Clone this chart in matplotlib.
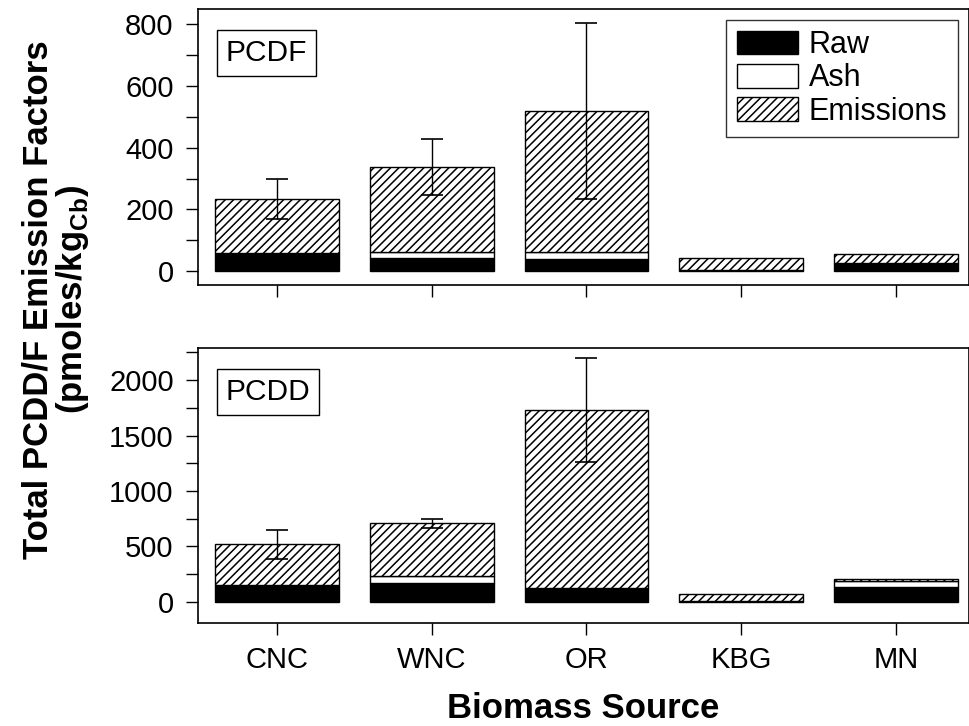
import numpy as np
import matplotlib
matplotlib.use("Agg")
import matplotlib.pyplot as plt
from matplotlib.patches import Patch
from matplotlib.ticker import MultipleLocator

plt.rcParams['font.family'] = ['Liberation Sans', 'DejaVu Sans']
plt.rcParams['mathtext.fontset'] = 'custom'
plt.rcParams['mathtext.bf'] = 'Liberation Sans:bold'
plt.rcParams['mathtext.rm'] = 'Liberation Sans'
plt.rcParams['hatch.linewidth'] = 1.1

categories = ['CNC', 'WNC', 'OR', 'KBG', 'MN']

# PCDF (top panel)
pcdf_raw = [60, 44, 39, 3, 23]
pcdf_ash = [0, 18, 23, 1, 5]
pcdf_emis = [173, 276, 457, 40, 27]
pcdf_err = [65, 91, 284, 0, 0]

# PCDD (bottom panel)
pcdd_raw = [151, 166, 121, 5, 135]
pcdd_ash = [0, 68, 0, 2, 48]
pcdd_emis = [367, 473, 1609, 60, 22]
pcdd_err = [128, 37, 466, 0, 0]

HATCH = '////'


def draw_panel(ax, raw, ash, emis, err, label, ylim, major, minor):
    x = np.arange(len(categories))
    raw = np.array(raw)
    ash = np.array(ash)
    emis = np.array(emis)
    w = 0.8
    ax.bar(x, raw, w, color='black', edgecolor='black', linewidth=1)
    ax.bar(x, ash, w, bottom=raw, color='white', edgecolor='black', linewidth=1)
    ax.bar(x, emis, w, bottom=raw + ash, color='white', edgecolor='black',
           linewidth=1, hatch=HATCH)
    top = raw + ash + emis
    has_err = np.array(err) > 0
    ax.errorbar(x[has_err], top[has_err], yerr=np.array(err)[has_err], fmt='none',
                ecolor='black', elinewidth=1, capsize=8, capthick=1.2)
    ax.set_xlim(-0.51, 4.472)
    ax.set_ylim(*ylim)
    ax.set_xticks(x)
    ax.yaxis.set_major_locator(MultipleLocator(major))
    ax.yaxis.set_minor_locator(MultipleLocator(minor))
    ax.tick_params(axis='both', which='both', direction='out', length=8.5, width=1,
                   labelsize=21)
    ax.tick_params(axis='y', pad=9)
    ax.text(0.036, 0.84, label, transform=ax.transAxes, fontsize=21.5,
            ha='left', va='center',
            bbox=dict(boxstyle='square,pad=0.3', facecolor='white', edgecolor='black', linewidth=1))
    for s in ax.spines.values():
        s.set_linewidth(1.2)


fig = plt.figure(figsize=(9.69, 7.26), dpi=100)
ax1 = fig.add_axes([0.2043, 0.6074, 0.7957, 0.3802])
ax2 = fig.add_axes([0.2043, 0.1414, 0.7957, 0.3788])

draw_panel(ax1, pcdf_raw, pcdf_ash, pcdf_emis, pcdf_err, 'PCDF', (-45, 850), 200, 100)
draw_panel(ax2, pcdd_raw, pcdd_ash, pcdd_emis, pcdd_err, 'PCDD', (-195, 2287), 500, 250)

ax1.set_xticklabels([])
ax2.set_xticklabels(categories)
ax2.tick_params(axis='x', pad=8)
ax2.set_xlabel('Biomass Source', fontsize=25, fontweight='bold', labelpad=13)

handles = [
    Patch(facecolor='black', edgecolor='black', label='Raw'),
    Patch(facecolor='white', edgecolor='black', label='Ash'),
    Patch(facecolor='white', edgecolor='black', hatch=HATCH, label='Emissions'),
]
leg = ax1.legend(handles=handles, loc='upper right', fontsize=22, frameon=True,
                 fancybox=False, edgecolor='black', handlelength=2.0, handleheight=0.8,
                 borderaxespad=0.35, labelspacing=0.1, handletextpad=0.35,
                 borderpad=0.35)
leg.get_frame().set_linewidth(1)

fig.text(0.058, 0.587,
         'Total PCDD/F Emission Factors\n(pmoles/kg$_{\\mathbf{Cb}}$)',
         rotation=90, ha='center', va='center', fontsize=25, fontweight='bold',
         multialignment='center', linespacing=1.0)

fig.savefig('out.png', dpi=100)
